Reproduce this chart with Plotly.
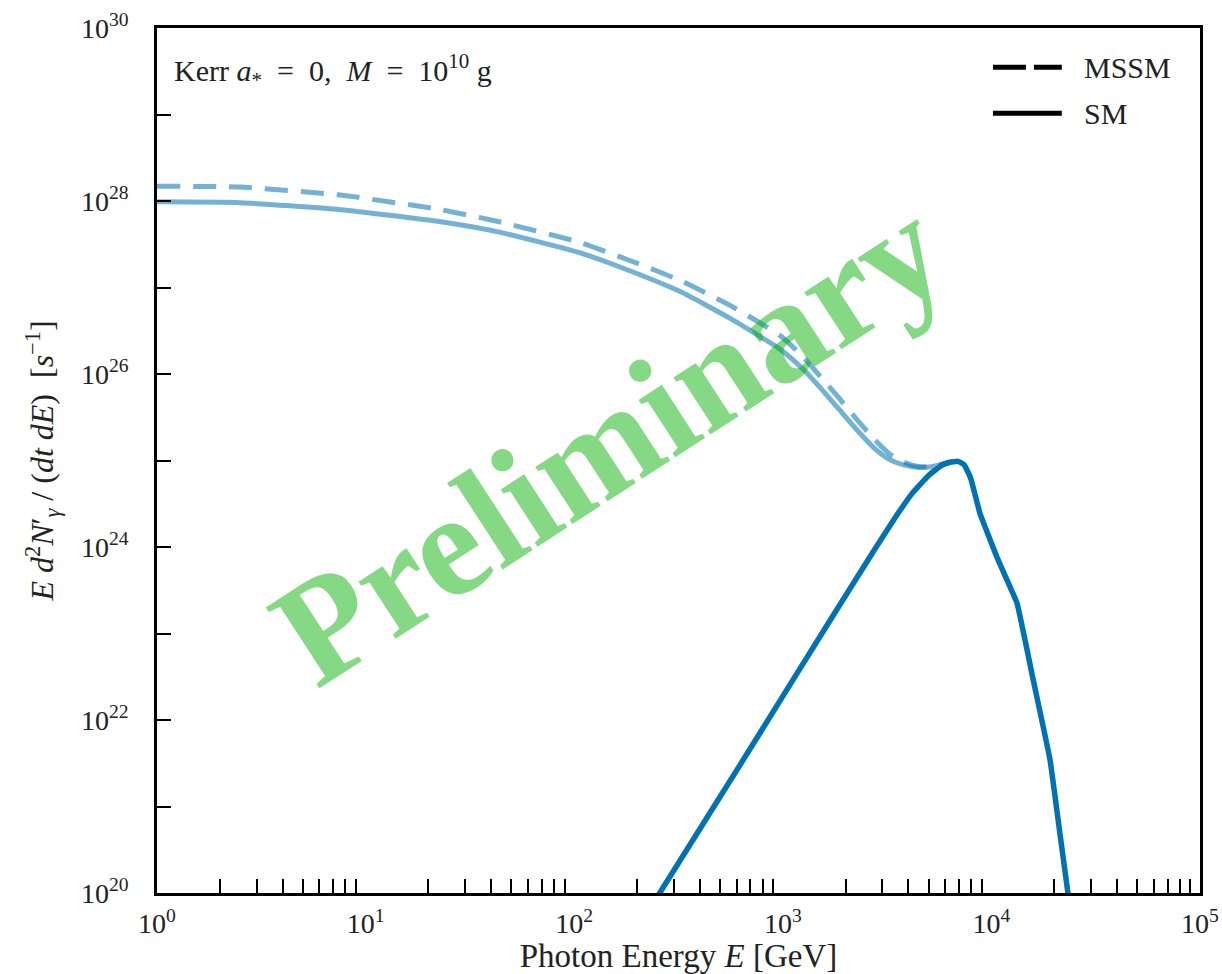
import plotly.graph_objects as go

# Total photon spectra E d^2N/(dt dE) [s^-1] versus photon energy [GeV]
energy_total = [1, 2.51, 7.59, 22.9, 43.7, 107, 186, 324, 562, 977, 1259, 1514, 1862,
                2291, 2754, 3236, 3802, 4467, 5248, 6310]
sm_total = [9.77e27, 9.55e27, 7.94e27, 5.75e27, 4.37e27, 2.51e27, 1.55e27, 8.91e26, 4.37e26,
            1.91e26, 1.12e26, 6.92e25, 3.89e25, 2.19e25, 1.38e25, 1.03e25, 8.91e24, 8.32e24,
            8.51e24, 9.55e24]
mssm_total = [1.48e28, 1.45e28, 1.17e28, 7.94e27, 5.75e27, 3.31e27, 2.04e27, 1.20e27, 6.17e26,
              2.75e26, 1.55e26, 9.33e25, 5.25e25, 2.88e25, 1.74e25, 1.20e25, 9.55e24, 8.51e24,
              8.51e24, 9.55e24]

# Primary photon spectrum (same for SM and MSSM)
energy_primary = [200, 257, 631, 1585, 2818, 3548, 4169, 5012, 5754, 6310, 6918, 7413, 7943,
                  8810, 9333, 10640, 12020, 13270, 15850, 19100, 21380, 23280, 25120]
primary = [3.7e19, 1.0e20, 3.16e21, 1.12e23, 1.02e24, 2.40e24, 4.17e24, 6.76e24, 8.71e24,
           9.55e24, 9.77e24, 8.91e24, 6.31e24, 2.45e24, 1.70e24, 7.59e23, 3.89e23, 2.24e23,
           2.95e22, 3.47e21, 4.57e20, 1.0e20, 2.8e19]

x_tick_vals = [1, 10, 100, 1e3, 1e4, 1e5]
x_tick_text = ["10<sup>0</sup>", "10<sup>1</sup>", "10<sup>2</sup>", "10<sup>3</sup>", "10<sup>4</sup>", "10<sup>5</sup>"]
y_tick_vals = [1e20, 1e21, 1e22, 1e23, 1e24, 1e25, 1e26, 1e27, 1e28, 1e29, 1e30]
y_tick_text = ["10<sup>20</sup>", "", "10<sup>22</sup>", "", "10<sup>24</sup>", "",
               "10<sup>26</sup>", "", "10<sup>28</sup>", "", "10<sup>30</sup>"]

BLUE = "#0072B2"
LIGHT = "rgba(0,114,178,0.55)"
FONT = "Liberation Serif"
TXT = "#222"

fig = go.Figure()
fig.add_trace(go.Scatter(x=energy_total, y=mssm_total, mode="lines", name="MSSM",
                         line=dict(color=LIGHT, width=5, dash="23px,13px", shape="spline", smoothing=0.5)))
fig.add_trace(go.Scatter(x=energy_total, y=sm_total, mode="lines", name="SM",
                         line=dict(color=LIGHT, width=5, shape="spline", smoothing=0.5)))
fig.add_trace(go.Scatter(x=energy_primary, y=primary, mode="lines", name="primary",
                         line=dict(color=BLUE, width=5.5, shape="spline", smoothing=0.3)))

# minor ticks at 2..9 within each decade
minor_vals = [m * 10 ** d for d in range(0, 5) for m in range(2, 10)]

fig.update_xaxes(
    type="log", range=[0, 5], tickvals=x_tick_vals, ticktext=x_tick_text, automargin=False,
    ticks="", showline=True, linecolor="black", linewidth=2.5, mirror=True,
    showgrid=False, zeroline=False,
    tickfont=dict(family=FONT, size=28, color=TXT), ticklabelstandoff=4,
    minor=dict(tickvals=minor_vals, ticks="inside", ticklen=14, tickwidth=2, tickcolor="black", showgrid=False),
    title=dict(text="Photon Energy <i>E</i> [GeV]", font=dict(family=FONT, size=33, color=TXT), standoff=4),
)
fig.update_yaxes(
    type="log", range=[20, 30], tickvals=y_tick_vals, ticktext=y_tick_text, automargin=False,
    ticks="inside", ticklen=14, tickwidth=2, tickcolor="black",
    showline=True, linecolor="black", linewidth=2.5, mirror=True,
    showgrid=False, zeroline=False,
    tickfont=dict(family=FONT, size=28, color=TXT), ticklabelstandoff=20,
    title=dict(text="<i>E</i> <i>d</i><sup>2</sup><i>N</i>′<sub><i>γ</i></sub> / (<i>dt</i> <i>dE</i>)  [<i>s</i><sup>−1</sup>]",
               font=dict(family=FONT, size=32, color=TXT), standoff=18),
)

# legend: key lines plus labels
fig.add_shape(type="line", xref="paper", yref="paper", x0=0.8015, x1=0.8675, y0=0.9545, y1=0.9545,
              line=dict(color="black", width=5, dash="33px,8px"))
fig.add_shape(type="line", xref="paper", yref="paper", x0=0.8015, x1=0.8675, y0=0.9015, y1=0.9015,
              line=dict(color="black", width=5))
fig.add_annotation(xref="paper", yref="paper", x=0.887, y=0.9545, text="MSSM", showarrow=False,
                   xanchor="left", yanchor="middle", font=dict(family=FONT, size=30, color=TXT))
fig.add_annotation(xref="paper", yref="paper", x=0.887, y=0.9015, text="SM", showarrow=False,
                   xanchor="left", yanchor="middle", font=dict(family=FONT, size=30, color=TXT))

fig.add_annotation(xref="paper", yref="paper", x=0.0144, y=0.951,
                   text="Kerr <i>a</i><sub>*</sub>  =  0,  <i>M</i>  =  10<sup>10</sup> g", showarrow=False,
                   xanchor="left", yanchor="middle", font=dict(family=FONT, size=30, color=TXT))

# watermark
fig.add_annotation(xref="paper", yref="paper", x=0.433, y=0.522, text="<b>Preliminary</b>",
                   showarrow=False, textangle=-33,
                   font=dict(family=FONT, size=148, color="rgba(0,175,0,0.48)"))

fig.update_layout(
    width=1222, height=974, margin=dict(l=157, r=22, t=28, b=81),
    paper_bgcolor="white", plot_bgcolor="white", showlegend=False,
)

fig.write_html("out.html")
